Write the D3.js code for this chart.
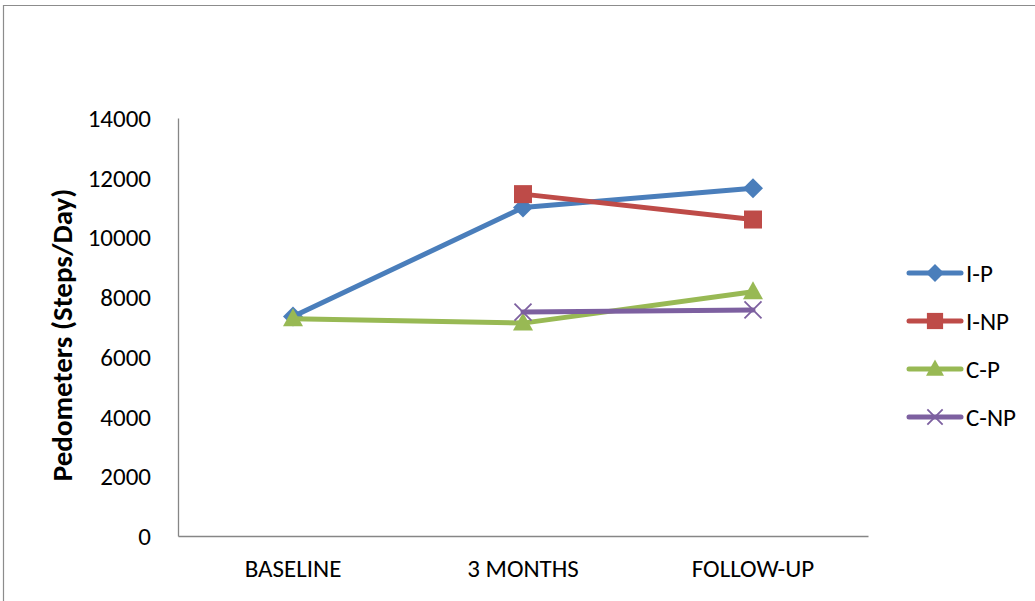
<!DOCTYPE html>
<html>
<head>
<meta charset="utf-8">
<script src="https://cdn.jsdelivr.net/npm/d3@7"></script>
<style>
  html, body { margin: 0; padding: 0; background: #fff; }
  svg { display: block; }
  text { font-family: Carlito, "Liberation Sans Narrow", "Open Sans", sans-serif; fill: #000; }
</style>
</head>
<body>
<svg id="chart" width="1035" height="601"></svg>
<script>
// Time points on the x axis
const categories = ["BASELINE", "3 MONTHS", "FOLLOW-UP"];
// Mean pedometer steps per day for each group (null = not measured)
const seriesNames = ["I-P", "I-NP", "C-P", "C-NP"];
const valuesIP  = [7350, 11000, 11650];
const valuesINP = [null, 11450, 10600];
const valuesCP  = [7280, 7130, 8180];
const valuesCNP = [null, 7500, 7570];
const yTicks = [0, 2000, 4000, 6000, 8000, 10000, 12000, 14000];

const colors = ["#4A7EBB", "#BE4B48", "#98B954", "#7D60A0"];
const markers = ["diamond", "square", "triangle", "cross"];
const seriesValues = [valuesIP, valuesINP, valuesCP, valuesCNP];

const svg = d3.select("#chart");

// Outer chart frame (top and left edges visible)
svg.append("path")
  .attr("d", "M3.5,601 L3.5,5.5 L1035,5.5")
  .attr("fill", "none")
  .attr("stroke", "#8c8c8c")
  .attr("stroke-width", 1.2);

const plot = { left: 178, right: 868, top: 118, bottom: 536 };

const x = d3.scaleBand().domain(categories).range([plot.left, plot.right]);
const y = d3.scaleLinear().domain([0, 14000]).range([plot.bottom, plot.top]);

// Y axis: line and labels only
const yAxis = svg.append("g")
  .attr("transform", `translate(${plot.left},0)`)
  .call(d3.axisLeft(y).tickValues(yTicks).tickSize(0).tickPadding(27).tickFormat(d3.format("d")));
yAxis.select(".domain").attr("stroke", "#868686").attr("stroke-width", 1.3);
yAxis.selectAll("text").style("font-size", "25px").attr("dy", "0.34em");

// X axis
const xAxis = svg.append("g")
  .attr("transform", `translate(0,${plot.bottom})`)
  .call(d3.axisBottom(x).tickSize(0).tickPadding(26));
xAxis.select(".domain").attr("stroke", "#868686").attr("stroke-width", 1.3);
xAxis.selectAll("text").style("font-size", "25px").attr("dy", "0.6em");

// Y axis title
svg.append("text")
  .attr("transform", "translate(62,335) rotate(-90)")
  .attr("text-anchor", "middle")
  .attr("dy", "0.35em")
  .style("font-size", "29px")
  .style("font-weight", "bold")
  .text("Pedometers (Steps/Day)");

function drawMarker(g, type, cx, cy, color, s) {
  if (type === "diamond") {
    g.append("path")
      .attr("d", `M${cx},${cy - s} L${cx + s},${cy} L${cx},${cy + s} L${cx - s},${cy} Z`)
      .attr("fill", color);
  } else if (type === "square") {
    g.append("rect")
      .attr("x", cx - s * 0.9).attr("y", cy - s * 0.9)
      .attr("width", s * 1.8).attr("height", s * 1.8)
      .attr("fill", color);
  } else if (type === "triangle") {
    g.append("path")
      .attr("d", `M${cx},${cy - s * 1.05} L${cx + s},${cy + s * 0.75} L${cx - s},${cy + s * 0.75} Z`)
      .attr("fill", color);
  } else {
    const r = s * 0.85;
    g.append("path")
      .attr("d", `M${cx - r},${cy - r} L${cx + r},${cy + r} M${cx - r},${cy + r} L${cx + r},${cy - r}`)
      .attr("stroke", color).attr("stroke-width", 1.8).attr("fill", "none");
  }
}

const line = d3.line()
  .defined(d => d.v !== null)
  .x(d => x(d.c) + x.bandwidth() / 2)
  .y(d => y(d.v));

seriesValues.forEach((vals, i) => {
  const pts = categories.map((c, j) => ({ c, v: vals[j] }));
  const g = svg.append("g");
  g.append("path")
    .datum(pts)
    .attr("d", line)
    .attr("fill", "none")
    .attr("stroke", colors[i])
    .attr("stroke-width", 5)
    .attr("stroke-linejoin", "round")
    .attr("stroke-linecap", "round");
  pts.filter(d => d.v !== null).forEach(d => {
    drawMarker(g, markers[i], x(d.c) + x.bandwidth() / 2, y(d.v), colors[i], 10);
  });
});

// Legend
const legend = svg.append("g");
seriesNames.forEach((name, i) => {
  const ly = 273 + i * 48;
  legend.append("line")
    .attr("x1", 909).attr("x2", 961).attr("y1", ly).attr("y2", ly)
    .attr("stroke", colors[i]).attr("stroke-width", 5).attr("stroke-linecap", "round");
  drawMarker(legend, markers[i], 935, ly, colors[i], 9);
  legend.append("text")
    .attr("x", 966).attr("y", ly).attr("dy", "0.35em")
    .style("font-size", "25px")
    .text(name);
});
</script>
</body>
</html>
